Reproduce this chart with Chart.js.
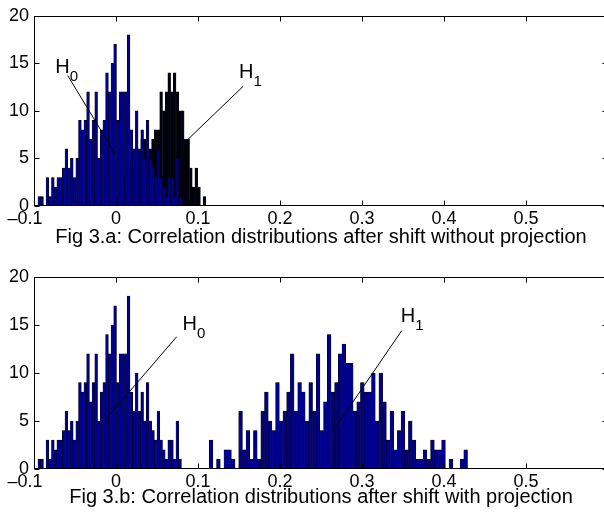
<!DOCTYPE html>
<html><head><meta charset="utf-8">
<script src="https://cdn.jsdelivr.net/npm/chart.js@4.4.1/dist/chart.umd.min.js"></script>
<style>
html,body{margin:0;padding:0;background:#fff;overflow:hidden;}
body{width:604px;height:517px;position:relative;}
canvas{position:absolute;left:0;display:block;}
#c1{top:0;}
#c2{top:258px;}
</style></head><body>
<canvas id="c1" width="624" height="258"></canvas>
<canvas id="c2" width="624" height="259"></canvas>
<script>
// ---- tick labels / captions ----
const xTickValues = [-0.1, 0, 0.1, 0.2, 0.3, 0.4, 0.5];
const xTickLabels = ['–0.1', '0', '0.1', '0.2', '0.3', '0.4', '0.5'];
const yTickValues = [0, 5, 10, 15, 20];
const captionA = 'Fig 3.a: Correlation distributions after shift without projection';
const captionB = 'Fig 3.b: Correlation distributions after shift with projection';

// ---- H0 histogram (same in both panels) ----
const h0BinStart = -0.0935;
const h0BinWidth = 0.0033;
const h0Counts = [1,1,0,3,1,3,2,3,3,4, 6,4,5,3,5,9,8,9,12,7, 9,12,5,8,9,14,12,15,17,9,
                  12,12,12,18,8,6,10,6,8,5, 9,5,4,3,6,3,2,1,3,3, 1,5,1];

// ---- H1 histogram, without projection (panel a) ----
const h1aBinStart = 0.0022;
const h1aBinWidth = 0.0033;
const h1aCounts = [1,2,3,3,4,5,5,6,5,7, 7,6,6,7,8,8,12,10,12,14, 12,14,12,10,10,7,7,4,2,4, 2,0,1];

// ---- H1 histogram, with projection (panel b) ----
const h1bBinStart = 0.1159;
const h1bBinWidth = 0.0045;
const h1bCounts = [3,0,1,0,2,2,1,0,6,2, 4,1,4,1,6,8,5,4,9,5, 6,8,12,6,9,8,5,9,6,12,
                   4,7,14,8,9,12,13,11,11,6, 7,9,8,8,10,5,10,7,3,6, 2,4,6,2,5,3,1,1,2,1,
                   3,2,2,3,0,1,0,0,1,2];

const FONT = "'Liberation Sans', Arial, Helvetica, sans-serif";
Chart.defaults.font.family = FONT;
Chart.defaults.color = '#000';

function binPoints(start, width, counts) {
  return counts.map((c, i) => ({ x: start + i * width, y: c }));
}
function histDataset(label, start, width, counts, fill) {
  return {
    label, data: binPoints(start, width, counts), binWidth: width,
    backgroundColor: fill, borderColor: '#000', borderWidth: 0.5, borderSkipped: 'start',
    grouped: false,
    barThickness: c => {
      const s = c.chart.scales.x;
      return Math.abs(s.getPixelForValue(c.dataset.binWidth) - s.getPixelForValue(0));
    }
  };
}

const decorPlugin = {
  id: 'decor',
  afterDatasetsDraw(chart, args, opts) {
    const { ctx, chartArea: a, scales: { x, y } } = chart;
    ctx.save();
    ctx.strokeStyle = '#000'; ctx.lineWidth = 1;
    const L = Math.round(a.left) + 0.5, R = Math.round(a.right) - 0.5;
    const T = Math.round(a.top) + 0.5, B = Math.round(a.bottom) - 0.5;
    ctx.strokeRect(L, T, R - L, B - T);
    ctx.beginPath();
    const tl = 5;
    xTickValues.forEach(v => {
      const px = Math.round(x.getPixelForValue(v)) + 0.5;
      ctx.moveTo(px, B); ctx.lineTo(px, B - tl);
      ctx.moveTo(px, T); ctx.lineTo(px, T + tl);
    });
    yTickValues.forEach(v => {
      const py = Math.round(y.getPixelForValue(v)) + 0.5;
      ctx.moveTo(L, py); ctx.lineTo(L + tl, py);
      ctx.moveTo(R, py); ctx.lineTo(R - tl, py);
    });
    ctx.stroke();
    (opts.items || []).forEach(it => {
      ctx.beginPath(); ctx.lineWidth = 1;
      ctx.moveTo(x.getPixelForValue(it.line[0]), y.getPixelForValue(it.line[1]));
      ctx.lineTo(x.getPixelForValue(it.line[2]), y.getPixelForValue(it.line[3]));
      ctx.stroke();
      ctx.fillStyle = '#000'; ctx.textBaseline = 'alphabetic'; ctx.textAlign = 'left';
      ctx.font = '20px ' + FONT;
      const tx = x.getPixelForValue(it.at[0]), ty = y.getPixelForValue(it.at[1]);
      ctx.fillText(it.text, tx, ty);
      const w = ctx.measureText(it.text).width;
      ctx.font = '15px ' + FONT;
      ctx.fillText(it.sub, tx + w, ty + 8);
    });
    ctx.restore();
  }
};

function makeChart(id, datasets, caption, padTop, axisH, titlePadB, items) {
  return new Chart(document.getElementById(id), {
    type: 'bar',
    data: { datasets },
    plugins: [decorPlugin],
    options: {
      responsive: false, animation: false, devicePixelRatio: 1,
      layout: { padding: { top: padTop, right: 16, left: 0, bottom: 0 } },
      plugins: { legend: { display: false }, tooltip: { enabled: false }, decor: { items } },
      scales: {
        x: {
          type: 'linear', min: -0.1, max: 0.6, offset: false,
          grid: { display: false, drawTicks: false }, border: { display: false },
          afterBuildTicks: s => { s.ticks = xTickValues.map(v => ({ value: v })); },
          ticks: { autoSkip: false, maxRotation: 0, padding: 2, font: { size: 18 }, color: '#000',
                   callback: (v, i) => v < 0 ? xTickLabels[i] + '\u2002\u2002' : xTickLabels[i] },
          title: { display: true, text: caption, font: { size: 20 }, color: '#000',
                   padding: { top: 0, bottom: titlePadB } },
          afterFit: s => { s.height = axisH; }
        },
        y: {
          min: 0, max: 20,
          grid: { display: false, drawTicks: false }, border: { display: false },
          afterBuildTicks: s => { s.ticks = yTickValues.map(v => ({ value: v })); },
          ticks: { padding: 5, font: { size: 18 }, color: '#000' },
          afterFit: s => { s.width = 34; }
        }
      }
    }
  });
}

const BLUE = '#00008f';
makeChart('c1', [
  histDataset('H0', h0BinStart, h0BinWidth, h0Counts, BLUE),
  histDataset('H1', h1aBinStart, h1aBinWidth, h1aCounts, '#000010')
], captionA, 15, 52, 9, [
  { text: 'H', sub: '0', at: [-0.0741, 13.98], line: [-0.0589, 13.72, -0.0012, 5.52] },
  { text: 'H', sub: '1', at: [0.150, 13.5], line: [0.1549, 12.57, 0.0854, 6.81] }
]);
makeChart('c2', [
  histDataset('H0', h0BinStart, h0BinWidth, h0Counts, BLUE),
  histDataset('H1', h1bBinStart, h1bBinWidth, h1bCounts, BLUE)
], captionB, 19, 48, 8, [
  { text: 'H', sub: '0', at: [0.0811, 14.48], line: [0.074, 13.78, -0.0122, 5.21] },
  { text: 'H', sub: '1', at: [0.3474, 15.28], line: [0.3484, 14.41, 0.2683, 4.41] }
]);
</script>
</body></html>
